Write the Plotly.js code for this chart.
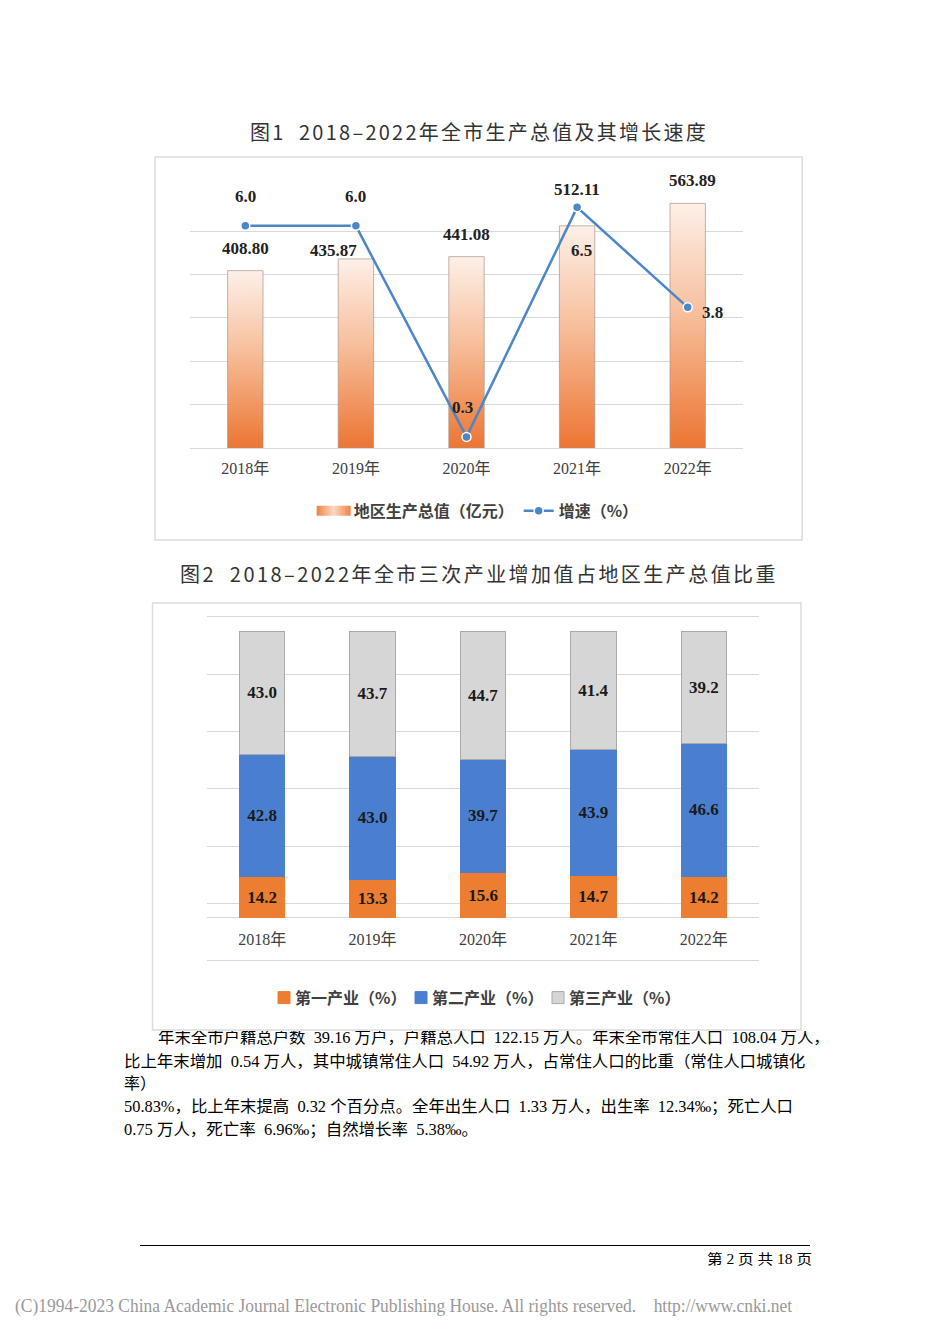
<!DOCTYPE html>
<html>
<head>
<meta charset="utf-8">
<script src="https://cdn.plot.ly/plotly-3.0.1.min.js"></script>
<style>
html,body{margin:0;padding:0;background:#fff;}
body{width:950px;height:1344px;position:relative;overflow:hidden;}
#c1{position:absolute;left:0;top:100px;width:950px;height:450px;z-index:1;}
#c2{position:absolute;left:0;top:550px;width:950px;height:490px;z-index:1;}
.txt{position:absolute;z-index:3;font-family:"Liberation Serif","Noto Sans CJK SC",serif;font-size:16px;line-height:20px;color:#000;white-space:pre;transform-origin:0 50%;}
#clip1{position:absolute;z-index:3;left:0;top:1031px;width:950px;height:20px;overflow:hidden;}
#rule{position:absolute;left:140px;top:1245px;width:670px;height:0;border-top:1px solid #000;z-index:3;}
</style>
</head>
<body>
<div id="c1"></div>
<div id="c2"></div>
<div id="clip1"><div class="txt" data-w="672" style="left:158px;top:-3px;">年末全市户籍总户数  39.16 万户，户籍总人口  122.15 万人。年末全市常住人口  108.04 万人，</div></div>
<div class="txt" data-w="681" style="left:124px;top:1052px;">比上年末增加  0.54 万人，其中城镇常住人口  54.92 万人，占常住人口的比重（常住人口城镇化</div>
<div class="txt" style="left:124px;top:1074px;">率）</div>
<div class="txt" data-w="669" style="left:124px;top:1097px;">50.83%，比上年末提高  0.32 个百分点。全年出生人口  1.33 万人，出生率  12.34‰；死亡人口</div>
<div class="txt" data-w="354" style="left:124px;top:1120px;">0.75 万人，死亡率  6.96‰；自然增长率  5.38‰。</div>
<div id="rule"></div>
<div class="txt" data-w="105" style="left:707px;top:1250px;font-size:14px;">第 2 页 共 18 页</div>
<div class="txt" data-w="777" style="left:15px;top:1296px;font-size:18px;color:#999;">(C)1994-2023 China Academic Journal Electronic Publishing House. All rights reserved.    http://www.cnki.net</div>
<script>
// ---------- data ----------
const years = ['2018年', '2019年', '2020年', '2021年', '2022年'];
const gdp = [408.80, 435.87, 441.08, 512.11, 563.89];
const growth = [6.0, 6.0, 0.3, 6.5, 3.8];
const primary = [14.2, 13.3, 15.6, 14.7, 14.2];
const secondary = [42.8, 43.0, 39.7, 43.9, 46.6];
const tertiary = [43.0, 43.7, 44.7, 41.4, 39.2];

const title1 = '图1  2018–2022年全市生产总值及其增长速度';
const title2 = '图2  2018–2022年全市三次产业增加值占地区生产总值比重';
const name1 = '地区生产总值（亿元）';
const name2 = '增速（%）';
const names2 = ['第一产业（%）', '第二产业（%）', '第三产业（%）'];

// ---------- style (label offsets in px: [xshift, yshift]) ----------
const gdpLabelShift = [[0, 22], [-22, 8], [0, 22], [0, 36], [5, 23]];
const growthLabelShift = [[0, 29], [0, 29], [-4, 29], [4, -43], [25, -5]];
const titleWidths = [458, 598];

const serif = 'Liberation Serif, Noto Sans CJK SC, serif';
const sans = 'Noto Sans CJK SC, Noto Sans, sans-serif';
const labelFont = {family: serif, size: 17, weight: 'bold', color: '#222'};
const tickFont = {family: serif, size: 16, color: '#404040'};
const legendFont = {family: sans, size: 16, weight: 'bold', color: '#404040'};
const titleFont = {family: sans, size: 20, color: '#333'};
const grid = '#d9d9d9';

// ---------- chart 1 ----------
const trBar = {
  type: 'bar', x: years, y: gdp, name: name1, width: 0.32,
  marker: {color: '#f4a77a', line: {color: 'rgba(170,150,140,0.7)', width: 1}},
  hoverinfo: 'skip'
};
const trLine = {
  type: 'scatter', mode: 'lines+markers', x: years, y: growth, yaxis: 'y2', name: name2,
  line: {color: '#4d86c6', width: 2.5},
  marker: {color: '#4d86c6', size: 9, line: {color: '#ffffff', width: 1.5}},
  hoverinfo: 'skip'
};
const ann1 = [];
gdp.forEach((v, i) => ann1.push({
  x: years[i], y: v, xref: 'x', yref: 'y', text: v.toFixed(2), showarrow: false,
  xanchor: 'center', yanchor: 'middle', xshift: gdpLabelShift[i][0], yshift: gdpLabelShift[i][1], font: labelFont
}));
growth.forEach((v, i) => ann1.push({
  x: years[i], y: v, xref: 'x', yref: 'y2', text: v.toFixed(1), showarrow: false,
  xanchor: 'center', yanchor: 'middle', xshift: growthLabelShift[i][0], yshift: growthLabelShift[i][1], font: labelFont
}));

const layout1 = {
  width: 950, height: 450,
  margin: {l: 190, r: 207, t: 87, b: 102},
  paper_bgcolor: '#ffffff', plot_bgcolor: 'rgba(0,0,0,0)',
  title: {text: title1, x: 479 / 950, xanchor: 'center', xref: 'container', y: 1 - 33 / 450, yanchor: 'middle', yref: 'container', font: titleFont},
  showlegend: true,
  xaxis: {type: 'category', range: [-0.5, 4.5], showgrid: false, showline: false, zeroline: false, ticks: '', tickfont: tickFont, ticklabelstandoff: 9, fixedrange: true},
  yaxis: {range: [0, 601.6], tick0: 0, dtick: 100, showgrid: true, gridcolor: grid, gridwidth: 1, showticklabels: false, ticks: '', zeroline: true, zerolinecolor: grid, zerolinewidth: 1, showline: false},
  yaxis2: {overlaying: 'y', side: 'right', range: [0, 7.05], showgrid: false, showticklabels: false, zeroline: false, showline: false, ticks: ''},
  legend: {orientation: 'h', x: 0.522, xanchor: 'center', y: -0.241, yanchor: 'middle', font: legendFont, bgcolor: 'rgba(0,0,0,0)', traceorder: 'normal'},
  shapes: [{type: 'rect', xref: 'paper', yref: 'paper', x0: -0.0633, x1: 1.107, y0: -0.3525, y1: 1.115, line: {color: '#dcdcdc', width: 1.5}, layer: 'below'}],
  annotations: ann1
};

// ---------- chart 2 ----------
const segFont = {family: serif, size: 17, weight: 'bold', color: '#1a1a1a'};
function seg(vals, name, color, lineColor) {
  return {
    type: 'bar', x: years, y: vals, name: name, width: 0.41,
    text: vals.map(v => v.toFixed(1)), textposition: 'inside', insidetextanchor: 'middle',
    textfont: segFont, constraintext: 'none', textangle: 0,
    marker: {color: color, line: {color: lineColor, width: 1}},
    hoverinfo: 'skip'
  };
}
const data2 = [
  seg(primary, names2[0], '#ed7d31', '#ed7d31'),
  seg(secondary, names2[1], '#4a7fcf', '#4a7fcf'),
  seg(tertiary, names2[2], '#d6d6d6', '#a9a9a9')
];
const layout2 = {
  width: 950, height: 490,
  margin: {l: 207, r: 191, t: 64, b: 78},
  paper_bgcolor: '#ffffff', plot_bgcolor: 'rgba(0,0,0,0)',
  title: {text: title2, x: 479 / 950, xanchor: 'center', xref: 'container', y: 1 - 25 / 490, yanchor: 'middle', yref: 'container', font: titleFont},
  barmode: 'stack',
  xaxis: {type: 'category', range: [-0.5, 4.5], anchor: 'free', position: 0.1284, showgrid: false, showline: false, zeroline: false, ticks: '', tickfont: tickFont, ticklabelstandoff: 11, fixedrange: true},
  yaxis: {range: [-15.6, 105.94], tick0: 4.9, dtick: 20, showgrid: true, gridcolor: grid, gridwidth: 1, showticklabels: false, ticks: '', zeroline: true, zerolinecolor: grid, zerolinewidth: 1, showline: false},
  legend: {orientation: 'h', x: 0.087, xanchor: 'left', y: -0.1026, yanchor: 'middle', font: legendFont, bgcolor: 'rgba(0,0,0,0)', traceorder: 'normal', entrywidth: 92, entrywidthmode: 'pixels'},
  shapes: [{type: 'rect', xref: 'paper', yref: 'paper', x0: -0.0987, x1: 1.076, y0: -0.1954, y1: 1.0316, line: {color: '#dcdcdc', width: 1.5}, layer: 'below'}]
};

const cfg = {staticPlot: true, displayModeBar: false};

function spaceTitle(gd, target) {
  const t = gd.querySelector('.gtitle');
  if (!t) return;
  const n = t.textContent.length;
  const w = t.getComputedTextLength ? t.getComputedTextLength() : t.getBBox().width;
  const ls = Math.max(0, (target - w) / n);
  t.style.letterSpacing = ls.toFixed(2) + 'px';
}

Plotly.newPlot('c1', [trBar, trLine], layout1, cfg).then(gd => {
  spaceTitle(gd, titleWidths[0]);
  const ns = 'http://www.w3.org/2000/svg';
  const svg = gd.querySelector('svg.main-svg');
  let defs = svg.querySelector('defs');
  if (!defs) { defs = document.createElementNS(ns, 'defs'); svg.insertBefore(defs, svg.firstChild); }
  function grad(id, horiz, stops) {
    const lg = document.createElementNS(ns, 'linearGradient');
    lg.setAttribute('id', id);
    lg.setAttribute('x1', '0'); lg.setAttribute('y1', '0');
    lg.setAttribute('x2', horiz ? '1' : '0'); lg.setAttribute('y2', horiz ? '0' : '1');
    stops.forEach(s => {
      const st = document.createElementNS(ns, 'stop');
      st.setAttribute('offset', s[0]); st.setAttribute('stop-color', s[1]);
      lg.appendChild(st);
    });
    defs.appendChild(lg);
  }
  grad('gdpGrad', false, [['0%', '#fdf0e8'], ['45%', '#f7bf9c'], ['100%', '#ec7533']]);
  grad('gdpGradH', true, [['0%', '#ee8345'], ['50%', '#fbd9c4'], ['100%', '#ee8345']]);
  gd.querySelectorAll('.barlayer .point path').forEach(p => { p.style.fill = 'url(#gdpGrad)'; });
  gd.querySelectorAll('.legend .traces').forEach(t => {
    const tx = t.querySelector('text');
    if (tx && tx.textContent === name1) {
      t.querySelectorAll('.legendpoints path').forEach(p => {
        p.setAttribute('d', 'M-17,5V-5H17V5Z');
        p.style.fill = 'url(#gdpGradH)';
        p.style.stroke = 'none';
      });
    }
  });
});
Plotly.newPlot('c2', data2, layout2, cfg).then(gd => {
  spaceTitle(gd, titleWidths[1]);
  // let legend texts overflow their entry box, and set squares close to their texts
  gd.querySelectorAll('.legend [clip-path]').forEach(el => el.removeAttribute('clip-path'));
  gd.querySelectorAll('.legend .traces .legendpoints').forEach(lp => {
    const cur = lp.getAttribute('transform') || '';
    lp.setAttribute('transform', (cur + ' translate(9,0)').trim());
  });
});

// fit text lines to measured widths of the reference
document.querySelectorAll('.txt[data-w]').forEach(el => {
  const target = parseFloat(el.getAttribute('data-w'));
  const w = el.getBoundingClientRect().width;
  if (w > 0) {
    const s = Math.max(0.8, Math.min(1.2, target / w));
    el.style.transform = 'scaleX(' + s.toFixed(3) + ')';
  }
});
</script>
</body>
</html>
